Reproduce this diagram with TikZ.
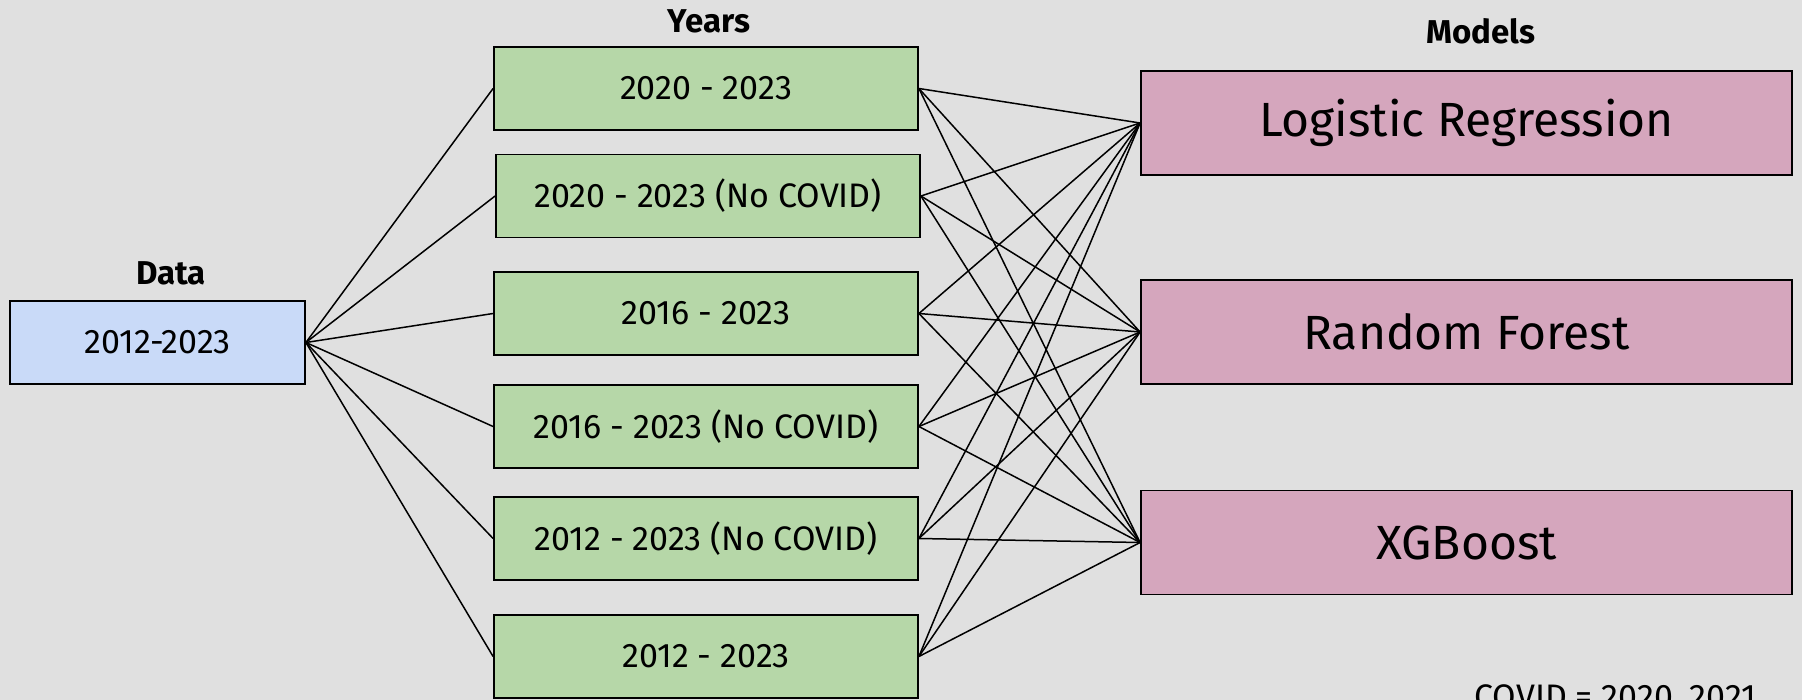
\documentclass[tikz,border=0pt]{standalone}
\usepackage{fontspec}
\setmainfont{Fira Sans}
\definecolor{bgray}{HTML}{E0E0E0}
\definecolor{dblue}{HTML}{C9DAF8}
\definecolor{ygreen}{HTML}{B6D7A8}
\definecolor{mpink}{HTML}{D5A6BD}
\begin{document}
\begin{tikzpicture}[x=0.5pt,y=-0.5pt]
\tikzstyle{every node}+=[inner sep=0pt]
\tikzstyle{databox}=[draw=black,line width=0.9pt,fill=dblue,minimum width=147.5pt,minimum height=41.5pt,font=\fontsize{17}{19}\selectfont]
\tikzstyle{yearbox}=[draw=black,line width=0.9pt,fill=ygreen,minimum width=212pt,minimum height=41.5pt,font=\fontsize{17}{19}\selectfont]
\tikzstyle{modelbox}=[draw=black,line width=0.9pt,fill=mpink,minimum width=325.5pt,minimum height=52pt,font=\fontsize{24}{27}\selectfont]
\tikzstyle{head}=[font=\fontsize{16.5}{18}\selectfont\bfseries]
\tikzstyle{link}=[black,line width=0.75pt]
\fill [bgray] (0,0) rectangle (1802,700);
\useasboundingbox (0,0) rectangle (1802,700);

% data
\node [head] (datahead) at (171,273) {Data};
\node [databox] (data) at (157.5,342.5) {2012-2023};

% years
\node [head] (yearshead) at (709,21) {Years};
\node [yearbox] (y1) at (706,88.5) {2020 - 2023};
\node [yearbox] (y2) at (708,196) {2020 - 2023 (No COVID)};
\node [yearbox] (y3) at (706,313.5) {2016 - 2023};
\node [yearbox] (y4) at (706,426.5) {2016 - 2023 (No COVID)};
\node [yearbox] (y5) at (706,538.5) {2012 - 2023 (No COVID)};
\node [yearbox] (y6) at (706,656.5) {2012 - 2023};

% models
\node [head] (modelshead) at (1481,31) {Models};
\node [modelbox] (lr) at (1466.5,123) {Logistic Regression};
\node [modelbox] (rf) at (1466.5,332) {Random Forest};
\node [modelbox] (xgb) at (1466.5,542.5) {XGBoost};

\node [anchor=north west,font=\fontsize{17}{19}\selectfont] (note) at (1474,684) {COVID = 2020, 2021};

\foreach \y in {y1,y2,y3,y4,y5,y6}
  \draw [link] (data.east) -- (\y.west);
\foreach \y in {y1,y2,y3,y4,y5,y6}
  \foreach \m in {lr,rf,xgb}
    \draw [link] (\y.east) -- (\m.west);
\end{tikzpicture}
\end{document}
